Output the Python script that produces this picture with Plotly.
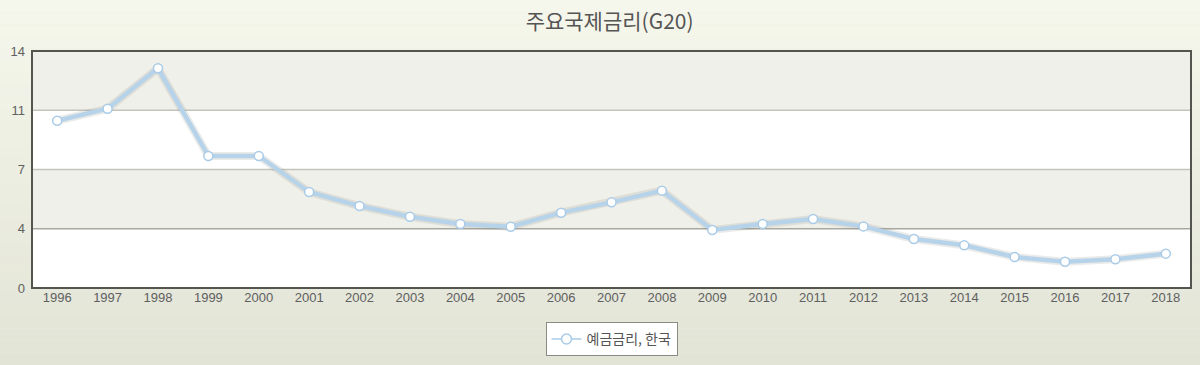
import plotly.graph_objects as go

years = [str(y) for y in range(1996, 2019)]
rates = [9.88, 10.59, 12.98, 7.80, 7.80, 5.67, 4.84, 4.21, 3.78, 3.62, 4.45, 5.06,
         5.75, 3.43, 3.78, 4.08, 3.64, 2.89, 2.52, 1.83, 1.55, 1.70, 2.03]
series_name = "예금금리, 한국"
title = "주요국제금리(G20)"
y_tickvals = [0, 3.5, 7, 10.5, 14]
y_ticktext = ["0", "4", "7", "11", "14"]

fig = go.Figure()

# soft shadow under the line
fig.add_trace(go.Scatter(x=years, y=rates, mode="lines",
                         line=dict(color="rgba(120,120,110,0.15)", width=8),
                         hoverinfo="skip", showlegend=False))
fig.add_trace(go.Scatter(x=years, y=rates, mode="lines+markers", name=series_name,
                         showlegend=False,
                         line=dict(color="#b7d3ea", width=4.5),
                         marker=dict(symbol="circle", size=9, color="white",
                                     line=dict(color="#a9cbe8", width=1.5))))
# legend entry (thin line + marker, as in the reference legend)
fig.add_trace(go.Scatter(x=[years[0]], y=[None], mode="lines+markers", name=series_name,
                         line=dict(color="#a9cbe8", width=1.5),
                         marker=dict(symbol="circle", size=10, color="white",
                                     line=dict(color="#a9cbe8", width=1.5))))

shapes = []
# background gradient (stepped)
n = 30
top_c = (246, 247, 236)
bot_c = (226, 228, 214)
H = 365.0
for i in range(n):
    t = i / (n - 1)
    c = tuple(int(round(top_c[k] + (bot_c[k] - top_c[k]) * t)) for k in range(3))
    py0 = i * H / n
    py1 = (i + 1) * H / n
    shapes.append(dict(type="rect", xref="paper", yref="paper", layer="below",
                       x0=-0.1, x1=1.1,
                       y0=(288 - py0) / 237.0, y1=(288 - py1) / 237.0,
                       fillcolor="rgb(%d,%d,%d)" % c, line=dict(width=0)))
# plot bands
for lo, hi, col in [(0, 3.5, "#ffffff"), (3.5, 7, "#f0f0ea"), (7, 10.5, "#ffffff"), (10.5, 14, "#f0f0ea")]:
    shapes.append(dict(type="rect", xref="paper", yref="y", layer="below",
                       x0=0, x1=1, y0=lo, y1=hi, fillcolor=col, line=dict(width=0)))
# grid lines
for v, col in [(3.5, "#a8a8a0"), (7, "#c4c4bc"), (10.5, "#c4c4bc")]:
    shapes.append(dict(type="line", xref="paper", yref="y", layer="below",
                       x0=0, x1=1, y0=v, y1=v, line=dict(color=col, width=1.3)))
# frame
shapes.append(dict(type="rect", xref="paper", yref="paper", layer="above",
                   x0=0, x1=1, y0=0, y1=1, line=dict(color="#555550", width=2)))

fig.update_layout(
    width=1200, height=365,
    margin=dict(l=32, r=9, t=51, b=77),
    paper_bgcolor="#eceee0", plot_bgcolor="rgba(0,0,0,0)",
    title=dict(text=title, x=0.508, xanchor="center", y=0.94, yanchor="middle",
               font=dict(family="Noto Sans CJK KR", size=21, color="#555555")),
    shapes=shapes,
    xaxis=dict(type="category", range=[-0.5, 22.5], showgrid=False, zeroline=False,
               showline=False, ticks="", tickfont=dict(family="Liberation Sans", size=13, color="#606060"),
               fixedrange=True),
    yaxis=dict(range=[0, 14], tickvals=y_tickvals, ticktext=y_ticktext, showgrid=False,
               zeroline=False, showline=False, ticks="", ticklabelstandoff=6,
               tickfont=dict(family="Liberation Sans", size=13, color="#606060"), fixedrange=True),
    legend=dict(orientation="h", x=0.5, xanchor="center", y=-0.145, yanchor="top",
                bgcolor="white", bordercolor="#8a8a85", borderwidth=1,
                font=dict(family="Noto Sans CJK KR", size=14, color="#555555")),
    showlegend=True,
)

fig.write_html("out.html")
